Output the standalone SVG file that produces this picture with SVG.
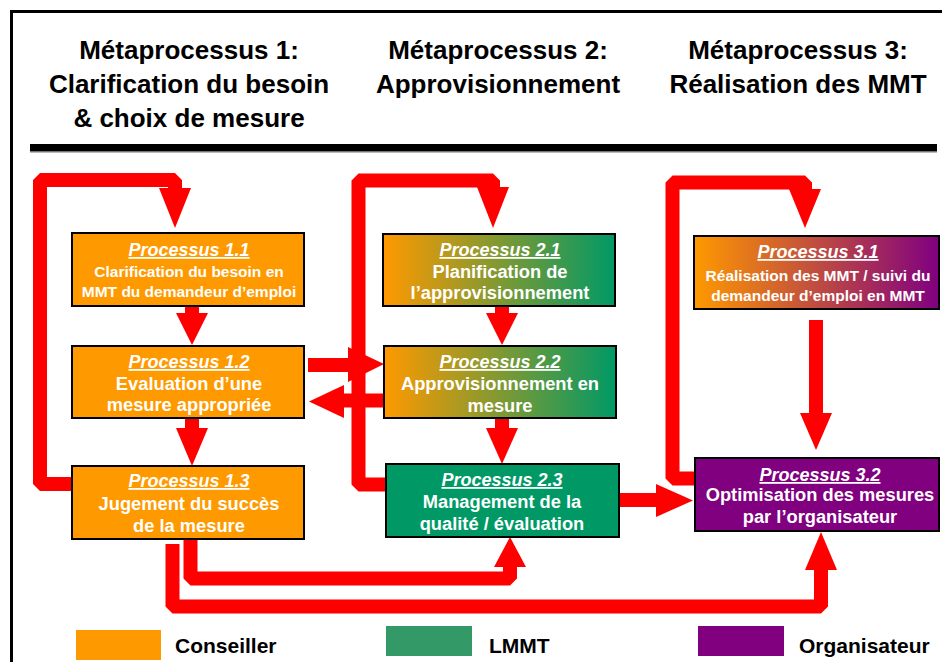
<svg xmlns="http://www.w3.org/2000/svg" width="942" height="662" viewBox="0 0 942 662">
  <defs>
    <linearGradient id="gOrGr" x1="0" y1="0" x2="1" y2="0">
      <stop offset="0" stop-color="#FF9900"/>
      <stop offset="1" stop-color="#009966"/>
    </linearGradient>
    <linearGradient id="gOrPu" x1="0" y1="0" x2="1" y2="0">
      <stop offset="0" stop-color="#FF9900"/>
      <stop offset="1" stop-color="#800080"/>
    </linearGradient>
  </defs>
  <style>
    .hdr { font-family: "Liberation Sans", Arial, sans-serif; font-weight: bold; font-size: 26px; fill: #000; text-anchor: middle; }
    .box { stroke: #000; stroke-width: 2; }
    .ttl { font-family: "Liberation Sans", Arial, sans-serif; font-weight: bold; font-style: italic; font-size: 18px; fill: #fff; text-anchor: middle; text-decoration: underline; }
    .txt { font-family: "Liberation Sans", Arial, sans-serif; font-weight: bold; font-size: 18.3px; fill: #fff; text-anchor: middle; }
    .sm { font-size: 15.5px; }
    .leg { font-family: "Liberation Sans", Arial, sans-serif; font-weight: bold; font-size: 21px; fill: #000; }
    .pipe { fill: none; stroke: #FF0000; stroke-width: 14; stroke-linejoin: bevel; }
    .head { fill: #FF0000; }
    .orange { fill: #FF9900; }
    .green { fill: #009966; }
    .purple { fill: #800080; }
  </style>

  <rect x="0" y="0" width="942" height="662" fill="#fff"/>

  <!-- page frame -->
  <path d="M11.5 662 V11.5 H942" fill="none" stroke="#000" stroke-width="3"/>

  <!-- column headers -->
  <g id="headers">
    <text class="hdr" x="189" y="59">Métaprocessus 1:</text>
    <text class="hdr" x="189" y="93">Clarification du besoin</text>
    <text class="hdr" x="189" y="127">&amp; choix de mesure</text>
    <text class="hdr" x="498" y="59">Métaprocessus 2:</text>
    <text class="hdr" x="498" y="93">Approvisionnement</text>
    <text class="hdr" x="798" y="59">Métaprocessus 3:</text>
    <text class="hdr" x="798" y="93">Réalisation des MMT</text>
  </g>
  <rect x="30" y="144" width="907" height="8" fill="#000"/>
  <rect x="30" y="151" width="907" height="1.5" fill="#777"/>

  <!-- connectors -->
  <g id="connectors">
    <!-- feedback loops -->
    <polyline class="pipe" points="72,484 40,484 40,180 175,180 175,190"/>
    <polygon class="head" points="159,188 191,188 175,228"/>
    <polyline class="pipe" points="386,484.5 358.5,484.5 358.5,180.5 493,180.5 493,190"/>
    <polygon class="head" points="477,187 509,187 493,228"/>
    <polyline class="pipe" points="694,478.5 672.5,478.5 672.5,182.5 805,182.5 805,192"/>
    <polygon class="head" points="789,189 821,189 805,228"/>

    <!-- column 1 -->
    <line class="pipe" x1="192" y1="307" x2="192" y2="315"/>
    <polygon class="head" points="176,313 208,313 192,345"/>
    <line class="pipe" x1="192" y1="418" x2="192" y2="430"/>
    <polygon class="head" points="176,428 208,428 192,466"/>

    <!-- column 2 -->
    <line class="pipe" x1="502" y1="307" x2="502" y2="315"/>
    <polygon class="head" points="486,313 518,313 502,345"/>
    <line class="pipe" x1="502" y1="419" x2="502" y2="430"/>
    <polygon class="head" points="486,428 518,428 502,464"/>

    <!-- between 1.2 and 2.2 -->
    <line class="pipe" x1="308" y1="365" x2="350" y2="365"/>
    <polygon class="head" points="348,347 348,382 384,364"/>
    <line class="pipe" x1="385" y1="400.5" x2="342" y2="400.5"/>
    <polygon class="head" points="344,385 344,418 309,401.5"/>

    <!-- 2.3 to 3.2 -->
    <line class="pipe" x1="619" y1="500" x2="658" y2="500"/>
    <polygon class="head" points="656,484 656,517 693,500.5"/>

    <!-- 3.1 to 3.2 -->
    <line class="pipe" x1="816" y1="320" x2="816" y2="415"/>
    <polygon class="head" points="800,413 832,413 816,450"/>

    <!-- from 1.3 along the bottom -->
    <polyline class="pipe" points="190.5,539 190.5,578.5 510,578.5 510,566"/>
    <polygon class="head" points="494,567 526,567 510,537"/>
    <polyline class="pipe" points="172.5,544 172.5,606.5 821,606.5 821,569"/>
    <polygon class="head" points="805,570 837,570 821,532"/>
  </g>

  <!-- process boxes -->
  <g id="p11">
    <rect class="box orange" x="72" y="233" width="232" height="73"/>
    <text class="ttl" x="189" y="256">Processus 1.1</text>
    <text class="txt sm" x="189" y="277">Clarification du besoin en</text>
    <text class="txt sm" x="189" y="297">MMT du demandeur d’emploi</text>
  </g>
  <g id="p12">
    <rect class="box orange" x="72" y="346" width="232" height="72"/>
    <text class="ttl" x="189" y="368">Processus 1.2</text>
    <text class="txt" x="189" y="390">Evaluation d’une</text>
    <text class="txt" x="189" y="411">mesure appropriée</text>
  </g>
  <g id="p13">
    <rect class="box orange" x="72" y="466" width="232" height="73"/>
    <text class="ttl" x="189" y="487">Processus 1.3</text>
    <text class="txt" x="189" y="510">Jugement du succès</text>
    <text class="txt" x="189" y="532">de la mesure</text>
  </g>
  <g id="p21">
    <rect class="box" fill="url(#gOrGr)" x="383" y="234" width="232" height="72"/>
    <text class="ttl" x="500" y="256">Processus 2.1</text>
    <text class="txt" x="500" y="278">Planification de</text>
    <text class="txt" x="500" y="299">l’approvisionnement</text>
  </g>
  <g id="p22">
    <rect class="box" fill="url(#gOrGr)" x="384" y="346" width="232" height="72"/>
    <text class="ttl" x="500" y="368">Processus 2.2</text>
    <text class="txt" x="500" y="390">Approvisionnement en</text>
    <text class="txt" x="500" y="412">mesure</text>
  </g>
  <g id="p23">
    <rect class="box green" x="386" y="464" width="233" height="73"/>
    <text class="ttl" x="502" y="486">Processus 2.3</text>
    <text class="txt" x="502" y="508">Management de la</text>
    <text class="txt" x="502" y="530">qualité / évaluation</text>
  </g>
  <g id="p31">
    <rect class="box" fill="url(#gOrPu)" x="694" y="236" width="245" height="73"/>
    <text class="ttl" x="818" y="258">Processus 3.1</text>
    <text class="txt sm" x="818" y="281">Réalisation des MMT / suivi du</text>
    <text class="txt sm" x="818" y="301">demandeur d’emploi en MMT</text>
  </g>
  <g id="p32">
    <rect class="box purple" x="695" y="458" width="244" height="73"/>
    <text class="ttl" x="820" y="481">Processus 3.2</text>
    <text class="txt" x="820" y="501">Optimisation des mesures</text>
    <text class="txt" x="820" y="523">par l’organisateur</text>
  </g>

  <!-- legend -->
  <g id="legend">
    <rect class="orange" x="76" y="630" width="85" height="30"/>
    <text class="leg" x="175" y="653">Conseiller</text>
    <rect fill="#339966" x="386" y="626" width="86" height="30"/>
    <text class="leg" x="489" y="653">LMMT</text>
    <rect class="purple" x="698" y="626" width="86" height="30"/>
    <text class="leg" x="799" y="653">Organisateur</text>
  </g>
</svg>
